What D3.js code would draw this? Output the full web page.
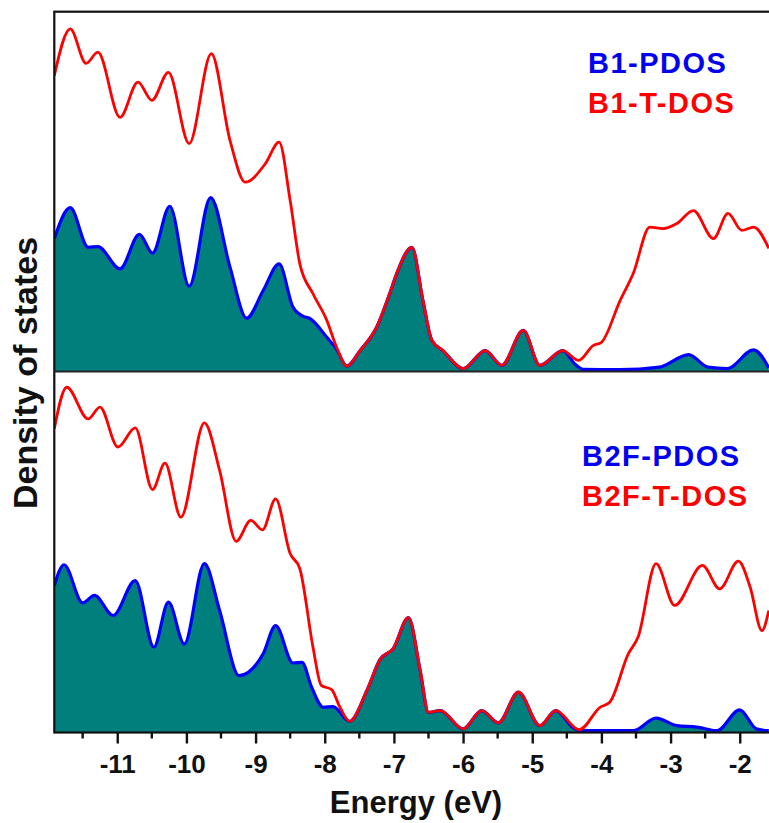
<!DOCTYPE html>
<html>
<head>
<meta charset="utf-8">
<script src="https://cdn.jsdelivr.net/npm/d3@7"></script>
<style>
  body { margin: 0; background: #fff; }
  svg text { font-family: "Liberation Sans", Arial, sans-serif; font-weight: bold; }
</style>
</head>
<body>
<div id="chart"></div>
<script>
// energy (eV), DOS (arb. units)
const b1Tdos = [[-11.91,8.22],[-11.68,9.52],[-11.45,8.56],[-11.28,8.87],[-10.96,7.06],[-10.70,8.04],[-10.50,7.53],[-10.26,8.31],[-9.96,6.33],[-9.64,8.83],[-9.37,6.42],[-9.15,5.26],[-8.86,5.77],[-8.66,6.37],[-8.50,4.75],[-8.36,2.99],[-8.17,2.16],[-7.97,1.42],[-7.83,0.68],[-7.68,0.15],[-7.49,0.58],[-7.25,1.23],[-7.06,2.17],[-6.96,2.72],[-6.74,3.45],[-6.58,1.97],[-6.45,0.86],[-6.29,0.58],[-6.00,0.08],[-5.68,0.58],[-5.44,0.17],[-5.13,1.14],[-4.89,0.17],[-4.56,0.58],[-4.33,0.31],[-4.12,0.72],[-4.00,0.81],[-3.73,1.97],[-3.54,2.72],[-3.30,4.01],[-3.11,3.97],[-2.91,4.11],[-2.67,4.47],[-2.38,3.69],[-2.17,4.39],[-1.97,3.92],[-1.80,4.01],[-1.58,3.42]];

const b1Pdos = [[-11.91,3.69],[-11.68,4.55],[-11.42,3.45],[-11.28,3.47],[-10.96,2.85],[-10.68,3.81],[-10.49,3.29],[-10.24,4.59],[-9.96,2.37],[-9.65,4.83],[-9.37,2.90],[-9.13,1.48],[-8.89,2.25],[-8.66,2.99],[-8.46,1.79],[-8.31,1.53],[-8.22,1.48],[-7.97,0.95],[-7.83,0.62],[-7.68,0.15],[-7.49,0.58],[-7.25,1.23],[-7.06,2.17],[-6.96,2.72],[-6.74,3.45],[-6.58,1.97],[-6.45,0.86],[-6.29,0.58],[-6.00,0.08],[-5.68,0.58],[-5.44,0.17],[-5.13,1.14],[-4.89,0.17],[-4.56,0.58],[-4.38,0.20],[-4.26,0.06],[-3.73,0.05],[-3.16,0.12],[-2.74,0.47],[-2.46,0.12],[-2.18,0.08],[-1.80,0.60],[-1.58,0.10]];

const b2fTdos = [[-11.91,8.44],[-11.73,9.59],[-11.42,8.71],[-11.25,9.04],[-10.99,7.93],[-10.74,8.46],[-10.49,6.75],[-10.31,7.48],[-10.08,5.98],[-9.74,8.60],[-9.52,7.28],[-9.28,5.31],[-9.07,5.89],[-8.90,5.63],[-8.71,6.49],[-8.50,4.97],[-8.36,4.55],[-8.17,2.37],[-8.05,1.31],[-7.90,1.19],[-7.78,0.70],[-7.64,0.31],[-7.39,1.17],[-7.20,2.03],[-7.01,2.33],[-6.79,3.19],[-6.62,1.72],[-6.50,0.56],[-6.33,0.61],[-6.00,0.10],[-5.73,0.61],[-5.49,0.27],[-5.20,1.12],[-4.89,0.19],[-4.66,0.61],[-4.32,0.08],[-4.02,0.70],[-3.88,0.84],[-3.61,2.19],[-3.47,2.65],[-3.21,4.69],[-2.94,3.53],[-2.54,4.64],[-2.29,3.99],[-2.02,4.76],[-1.85,4.04],[-1.68,2.83],[-1.58,3.39]];

const b2fPdos = [[-11.91,4.08],[-11.77,4.66],[-11.50,3.60],[-11.33,3.81],[-11.06,3.25],[-10.74,4.22],[-10.47,2.37],[-10.26,3.62],[-10.03,2.46],[-9.74,4.69],[-9.52,3.39],[-9.24,1.58],[-8.89,2.19],[-8.71,2.97],[-8.46,1.93],[-8.33,1.95],[-8.19,1.26],[-8.02,0.70],[-7.88,0.72],[-7.64,0.31],[-7.39,1.17],[-7.20,2.03],[-7.01,2.33],[-6.79,3.19],[-6.62,1.72],[-6.50,0.56],[-6.33,0.61],[-6.00,0.10],[-5.73,0.61],[-5.49,0.27],[-5.20,1.12],[-4.89,0.19],[-4.66,0.61],[-4.40,0.12],[-4.31,0.05],[-3.54,0.05],[-3.21,0.40],[-2.91,0.19],[-2.62,0.15],[-2.33,0.05],[-2.00,0.63],[-1.76,0.10],[-1.58,0.05]];

const majorTicks = [-11, -10, -9, -8, -7, -6, -5, -4, -3, -2];
const tickLabels = ["-11", "-10", "-9", "-8", "-7", "-6", "-5", "-4", "-3", "-2"];
const minorTicks = [-11.5, -10.5, -9.5, -8.5, -7.5, -6.5, -5.5, -4.5, -3.5, -2.5];

const panels = [
  { tdos: b1Tdos, pdos: b1Pdos, labels: ["B1-PDOS", "B1-T-DOS"], top: 11.7, bottom: 371.5, lx: 588, ly: 73 },
  { tdos: b2fTdos, pdos: b2fPdos, labels: ["B2F-PDOS", "B2F-T-DOS"], top: 371.5, bottom: 732.5, lx: 582, ly: 466 }
];

const width = 769, height = 823;
const left = 54.3, right = 769;

const svg = d3.select("#chart").append("svg")
  .attr("width", width)
  .attr("height", height);

const x = d3.scaleLinear().domain([-11.91, -1.577]).range([left, right]);

panels.forEach((p, i) => {
  const y = d3.scaleLinear().domain([0, 10]).range([p.bottom, p.bottom - 360]);

  svg.append("clipPath").attr("id", "clip" + i)
    .append("rect")
    .attr("x", left).attr("y", p.top)
    .attr("width", right - left + 5).attr("height", p.bottom - p.top);

  const g = svg.append("g").attr("clip-path", `url(#clip${i})`);

  const area = d3.area()
    .x(d => x(d[0]))
    .y0(y(0))
    .y1(d => y(d[1]))
    .curve(d3.curveMonotoneX);

  const line = d3.line()
    .x(d => x(d[0]))
    .y(d => y(d[1]))
    .curve(d3.curveMonotoneX);

  g.append("path").datum(p.pdos)
    .attr("d", area)
    .attr("fill", "#007f7c");

  g.append("path").datum(p.pdos)
    .attr("d", line)
    .attr("fill", "none")
    .attr("stroke", "#0000ff")
    .attr("stroke-width", 3.2);

  g.append("path").datum(p.tdos)
    .attr("d", line)
    .attr("fill", "none")
    .attr("stroke", "#ff0000")
    .attr("stroke-width", 2.8);

  svg.append("text")
    .attr("x", p.lx).attr("y", p.ly)
    .attr("fill", "#0000ee")
    .attr("font-size", 29)
    .attr("letter-spacing", 1.5)
    .text(p.labels[0]);

  svg.append("text")
    .attr("x", p.lx).attr("y", p.ly + 39.5)
    .attr("fill", "#ff0000")
    .attr("font-size", 29)
    .attr("letter-spacing", 1.5)
    .text(p.labels[1]);
});

// frame and divider
svg.append("rect")
  .attr("x", left).attr("y", 11.7)
  .attr("width", right - left + 10).attr("height", 732.5 - 11.7)
  .attr("fill", "none")
  .attr("stroke", "#111")
  .attr("stroke-width", 2.2);

svg.append("line")
  .attr("x1", left).attr("x2", right)
  .attr("y1", 371.5).attr("y2", 371.5)
  .attr("stroke", "#222")
  .attr("stroke-width", 2);

// x axis
const axis = svg.append("g")
  .attr("transform", "translate(0,732.5)")
  .call(d3.axisBottom(x)
    .tickValues(majorTicks)
    .tickSize(11)
    .tickFormat((d, i) => tickLabels[i]));

axis.select(".domain").remove();
axis.selectAll(".tick line").attr("stroke", "#111").attr("stroke-width", 2.4);
axis.selectAll(".tick text")
  .attr("y", 40).attr("dy", 0)
  .attr("fill", "#111")
  .attr("font-size", 26)
  .attr("font-family", "'Liberation Sans', Arial, sans-serif")
  .attr("font-weight", "bold");

svg.append("g")
  .attr("transform", "translate(0,732.5)")
  .selectAll("line")
  .data(minorTicks)
  .join("line")
  .attr("x1", d => x(d)).attr("x2", d => x(d))
  .attr("y1", 0).attr("y2", 6)
  .attr("stroke", "#111")
  .attr("stroke-width", 2.4);

// axis titles
svg.append("text")
  .attr("x", 416).attr("y", 813)
  .attr("text-anchor", "middle")
  .attr("font-size", 31)
  .attr("fill", "#111")
  .text("Energy (eV)");

svg.append("text")
  .attr("transform", "translate(37,373) rotate(-90)")
  .attr("text-anchor", "middle")
  .attr("font-size", 34)
  .attr("fill", "#111")
  .text("Density of states");
</script>
</body>
</html>
